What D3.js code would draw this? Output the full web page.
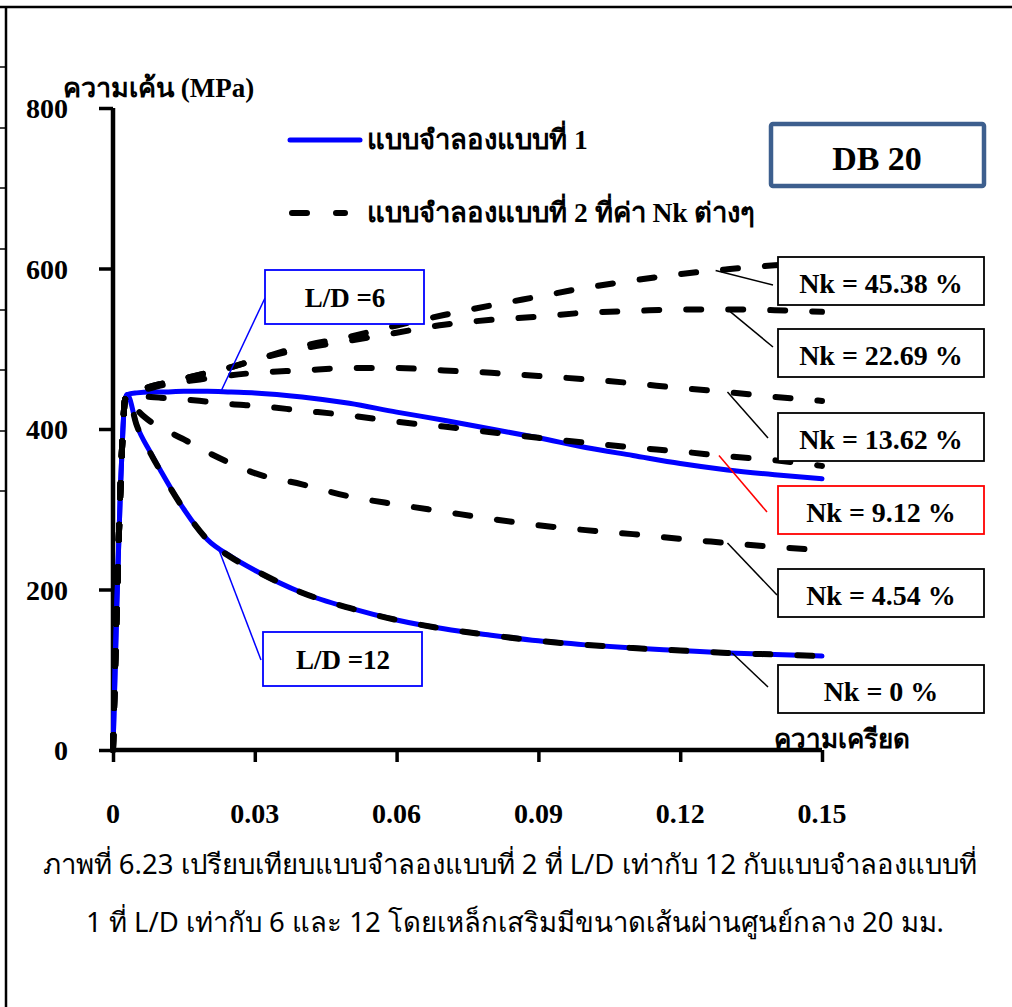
<!DOCTYPE html>
<html>
<head>
<meta charset="utf-8">
<script src="https://cdn.jsdelivr.net/npm/d3@7"></script>
<style>
  html, body { margin: 0; padding: 0; background: #fff; }
  svg { display: block; }
  .serif { font-family: "Liberation Serif", "Times New Roman", serif; font-weight: bold; }
  .sans { font-family: "Noto Sans", "DejaVu Sans", sans-serif; }
</style>
</head>
<body>
<svg id="chart" width="1012" height="1007"></svg>
<script>
// Strain grid shared by every curve (mm/mm)
const strain = [0, 0.0008, 0.0016, 0.0021, 0.0025, 0.003, 0.005, 0.008, 0.01, 0.015, 0.02, 0.025,
  0.03, 0.04, 0.05, 0.06, 0.07, 0.08, 0.09, 0.10, 0.11, 0.12, 0.13, 0.14, 0.15];

// Model 1 (solid blue), stress in MPa
const model1LD6  = [0, 180, 330, 400, 435, 443, 445, 446, 446, 447, 447, 446,
  445, 440, 432, 421, 411, 400, 389, 377, 367, 357, 349, 343, 338];
const model1LD12 = [0, 180, 330, 400, 435, 443, 405, 370, 349, 300, 262, 241,
  224, 196, 177, 162, 151, 143, 136, 131, 127, 124, 121, 119, 117];

// Model 2 (dashed black) at L/D = 12 for several Nk values, stress in MPa
const nk0    = [0, 180, 330, 400, 435, 443, 405, 369, 348, 300, 262, 240,
  224, 196, 177, 162, 151, 143, 136, 131, 127, 124, 121, 119, 117];
const nk454  = [0, 180, 330, 400, 435, 443, 425, 409, 402, 387, 371, 357,
  345, 331, 316, 306, 297, 288, 280, 274, 269, 263, 258, 253, 249];
const nk912  = [0, 180, 330, 400, 435, 443, 442, 440, 439, 437, 434, 431,
  429, 423, 417, 409, 403, 396, 389, 383, 377, 372, 366, 361, 354];
const nk1362 = [0, 180, 330, 400, 435, 443, 446, 451, 454, 459, 463, 467,
  470, 473, 476, 476, 473, 470, 466, 462, 457, 451, 446, 440, 435];
const nk2269 = [0, 180, 330, 400, 435, 443, 448, 453, 456, 463, 470, 477,
  486, 500, 510, 520, 530, 536, 540, 545, 547, 549, 549, 548, 546];
const nk4538 = [0, 180, 330, 400, 435, 443, 448, 453, 456, 463, 470, 477,
  486, 503, 515, 529, 542, 554, 565, 576, 585, 593, 599, 604, 608];

// Axis ticks and labels
const xTicks = [0, 0.03, 0.06, 0.09, 0.12, 0.15];
const xTickLabels = ["0", "0.03", "0.06", "0.09", "0.12", "0.15"];
const yTicks = [0, 200, 400, 600, 800];

const yTitle = "ความเค้น (MPa)";
const xTitle = "ความเครียด";
const legend1 = "แบบจำลองแบบที่ 1";
const legend2 = "แบบจำลองแบบที่ 2 ที่ค่า Nk ต่างๆ";
const boxTitle = "DB 20";
const nkLabels = ["Nk = 45.38 %", "Nk = 22.69 %", "Nk = 13.62 %", "Nk = 9.12 %", "Nk = 4.54 %", "Nk = 0  %"];
const caption1 = "ภาพที่ 6.23 เปรียบเทียบแบบจำลองแบบที่ 2 ที่ L/D เท่ากับ 12 กับแบบจำลองแบบที่";
const caption2 = "1 ที่ L/D เท่ากับ 6 และ 12 โดยเหล็กเสริมมีขนาดเส้นผ่านศูนย์กลาง 20 มม.";

const svg = d3.select("#chart");

const x = d3.scaleLinear().domain([0, 0.15]).range([113, 822]);
const y = d3.scaleLinear().domain([0, 800]).range([750, 108]);

// ---- page frame ----
svg.append("line").attr("x1", 0).attr("x2", 1012).attr("y1", 7).attr("y2", 7)
  .attr("stroke", "#000").attr("stroke-width", 2.5);
svg.append("line").attr("x1", 6).attr("x2", 6).attr("y1", 7).attr("y2", 1007)
  .attr("stroke", "#000").attr("stroke-width", 2.5);
[67, 128, 188, 249, 310, 370, 431, 491].forEach(v => {
  svg.append("line").attr("x1", 0).attr("x2", 6).attr("y1", v).attr("y2", v)
    .attr("stroke", "#000").attr("stroke-width", 1.5);
});

// ---- axes ----
const xAxis = d3.axisBottom(x).tickValues(xTicks).tickSize(12).tickFormat("");
const gx = svg.append("g").attr("transform", `translate(0,${y(0)})`).call(xAxis);
gx.select(".domain").attr("d", `M${x(0)},0H${x(0.15)}`).attr("stroke-width", 4.5);
gx.selectAll(".tick line").attr("stroke-width", 3.5);

const yAxis = d3.axisLeft(y).tickValues(yTicks).tickSize(14).tickFormat("");
const gy = svg.append("g").attr("transform", `translate(${x(0)},0)`).call(yAxis);
gy.select(".domain").attr("d", `M0,${y(800)}V${y(0)}`).attr("stroke-width", 4.5);
gy.selectAll(".tick line").attr("stroke-width", 3.5);

// tick labels
svg.append("g").selectAll("text").data(xTicks).join("text")
  .attr("class", "serif").attr("x", d => x(d)).attr("y", 823)
  .attr("text-anchor", "middle").attr("font-size", 28)
  .text((d, i) => xTickLabels[i]);
svg.append("g").selectAll("text").data(yTicks).join("text")
  .attr("class", "serif").attr("x", 68).attr("y", d => y(d) + 10)
  .attr("text-anchor", "end").attr("font-size", 28)
  .text(d => d);

// axis titles
svg.append("text").attr("class", "serif").attr("x", 63).attr("y", 97)
  .attr("font-size", 27).text(yTitle);
svg.append("text").attr("class", "serif").attr("x", 910).attr("y", 748)
  .attr("text-anchor", "end").attr("font-size", 26).text(xTitle);

// ---- curves ----
const line = d3.line().x((d, i) => x(strain[i])).y(d => y(d)).curve(d3.curveMonotoneX);
const dash = "15 27";

[model1LD12, model1LD6].forEach(s => {
  svg.append("path").attr("d", line(s)).attr("fill", "none")
    .attr("stroke", "#0000ff").attr("stroke-width", 5)
    .attr("stroke-linecap", "round").attr("stroke-linejoin", "round");
});
[nk4538, nk2269, nk1362, nk912, nk454, nk0].forEach(s => {
  svg.append("path").attr("d", line(s)).attr("fill", "none")
    .attr("stroke", "#000").attr("stroke-width", 6)
    .attr("stroke-dasharray", dash)
    .attr("stroke-linecap", "round").attr("stroke-linejoin", "round");
});

// ---- legend ----
svg.append("line").attr("x1", 290).attr("x2", 360).attr("y1", 140).attr("y2", 140)
  .attr("stroke", "#0000ff").attr("stroke-width", 5).attr("stroke-linecap", "round");
svg.append("text").attr("class", "serif").attr("x", 367).attr("y", 149)
  .attr("font-size", 27.5).text(legend1);
svg.append("line").attr("x1", 292).attr("x2", 345).attr("y1", 213).attr("y2", 213)
  .attr("stroke", "#000").attr("stroke-width", 6).attr("stroke-linecap", "round")
  .attr("stroke-dasharray", "15 29");
svg.append("text").attr("class", "serif").attr("x", 367).attr("y", 222)
  .attr("font-size", 27.5).text(legend2);

// DB 20 box
svg.append("rect").attr("x", 771).attr("y", 124).attr("width", 213).attr("height", 62)
  .attr("rx", 2).attr("fill", "#fff").attr("stroke", "#3d5f8e").attr("stroke-width", 4.5);
svg.append("text").attr("class", "serif").attr("x", 877).attr("y", 170)
  .attr("text-anchor", "middle").attr("font-size", 34).text(boxTitle);

// ---- Nk callouts: anchor strain on the curve, box top, leader end, colour ----
const callouts = [
  { s: nk4538, at: 0.1275, top: 257, lx: 773, ly: 285, c: "#000" },
  { s: nk2269, at: 0.130,  top: 329, lx: 773, ly: 347, c: "#000" },
  { s: nk1362, at: 0.130,  top: 413, lx: 768, ly: 438, c: "#000" },
  { s: nk912,  at: 0.1282, top: 486, lx: 767, ly: 512, c: "#ff0000" },
  { s: nk454,  at: 0.130,  top: 569, lx: 777, ly: 595, c: "#000" },
  { s: nk0,    at: 0.131,  top: 665, lx: 768, ly: 687, c: "#000" }
];
function stressAt(s, e) {
  const i = d3.bisectRight(strain, e) - 1;
  const t = (e - strain[i]) / (strain[i + 1] - strain[i]);
  return s[i] + t * (s[i + 1] - s[i]);
}
callouts.forEach((c, i) => {
  svg.append("line").attr("x1", x(c.at)).attr("y1", y(stressAt(c.s, c.at)))
    .attr("x2", c.lx).attr("y2", c.ly)
    .attr("stroke", c.c).attr("stroke-width", 1.5);
  svg.append("rect").attr("x", 778).attr("y", c.top).attr("width", 206).attr("height", 48)
    .attr("fill", "#fff").attr("stroke", c.c).attr("stroke-width", 1.8);
  svg.append("text").attr("class", "serif").attr("x", 881).attr("y", c.top + 36)
    .attr("text-anchor", "middle").attr("font-size", 28).text(nkLabels[i]);
});

// ---- L/D callouts (blue) ----
const ldCallouts = [
  { s: model1LD6,  at: 0.0228, bx: 265, by: 270, lx: 265, ly: 298, label: "L/D =6" },
  { s: model1LD12, at: 0.0222, bx: 263, by: 632, lx: 261, ly: 660, label: "L/D =12" }
];
ldCallouts.forEach(c => {
  svg.append("line").attr("x1", x(c.at)).attr("y1", y(stressAt(c.s, c.at)))
    .attr("x2", c.lx).attr("y2", c.ly).attr("stroke", "#0000ff").attr("stroke-width", 1.5);
  svg.append("rect").attr("x", c.bx).attr("y", c.by).attr("width", 159).attr("height", 54)
    .attr("fill", "#fff").attr("stroke", "#0000ff").attr("stroke-width", 1.8);
  svg.append("text").attr("class", "serif").attr("x", c.bx + 80).attr("y", c.by + 37)
    .attr("text-anchor", "middle").attr("font-size", 27).text(c.label);
});

// ---- caption ----
svg.append("text").attr("class", "sans").attr("x", 510).attr("y", 874)
  .attr("text-anchor", "middle").attr("font-size", 27.5).text(caption1);
svg.append("text").attr("class", "sans").attr("x", 515).attr("y", 932)
  .attr("text-anchor", "middle").attr("font-size", 27.5).text(caption2);
</script>
</body>
</html>
